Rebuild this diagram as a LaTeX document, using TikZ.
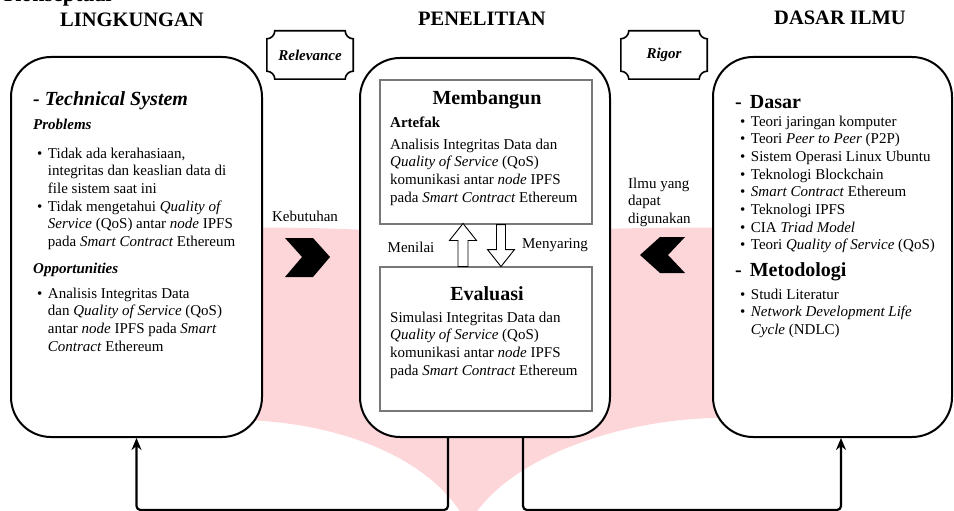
\documentclass[tikz,border=0pt]{standalone}
\usepackage{fontspec}
\setmainfont{Liberation Serif}
\usetikzlibrary{calc,arrows.meta}
\definecolor{wm}{RGB}{253,214,218}
\definecolor{innergray}{RGB}{120,120,120}
\newcommand\plaqueframe[2]{%
  \draw[line width=1.6pt,fill=white]
    ($(#1.north west)+(#2,0)$) -- ($(#1.north east)+(-#2,0)$)
    .. controls ($(#1.north east)+(-#2,0.552*#2)$) and ($(#1.north east)+(-0.552*#2,#2)$) .. ($(#1.north east)+(0,#2)$)
    -- ($(#1.south east)+(0,-#2)$)
    .. controls ($(#1.south east)+(-0.552*#2,-#2)$) and ($(#1.south east)+(-#2,-0.552*#2)$) .. ($(#1.south east)+(-#2,0)$)
    -- ($(#1.south west)+(#2,0)$)
    .. controls ($(#1.south west)+(#2,-0.552*#2)$) and ($(#1.south west)+(0.552*#2,-#2)$) .. ($(#1.south west)+(0,-#2)$)
    -- ($(#1.north west)+(0,#2)$)
    .. controls ($(#1.north west)+(0.552*#2,#2)$) and ($(#1.north west)+(#2,0.552*#2)$) .. cycle;}
\begin{document}
\begin{tikzpicture}[x=1pt,y=-1pt,
  bigbox/.style={draw,line width=2pt,fill=white,rounded corners=40pt,inner sep=0pt},
  innerbox/.style={draw=innergray,line width=1.1pt,fill=white,inner sep=0pt,minimum width=212pt,minimum height=144pt},
  title/.style={font=\fontsize{20.5}{24}\selectfont\bfseries,inner sep=0pt},
  head/.style={font=\fontsize{20}{24}\selectfont\bfseries,inner sep=0pt},
  txt/.style={font=\fontsize{15}{17.7}\selectfont,inner sep=0pt,anchor=base west},
  lbl/.style={font=\fontsize{15}{17.7}\selectfont,inner sep=0pt,anchor=base},
  plaque/.style={inner sep=0pt,font=\fontsize{15}{18}\selectfont\bfseries\itshape},
  blockarrow/.style={draw,line width=0.9pt,fill=white},
  chevron/.style={fill=black},
  conn/.style={line width=2.2pt,rounded corners=4pt,-{Stealth[length=12pt,width=10pt]}}]
\useasboundingbox (0,0) rectangle (954,511);
\clip (0,0) rectangle (954,511);
% watermark
\fill[wm] (225,228) .. controls (330,226) and (430,232) .. (468,240)
  .. controls (506,232) and (620,226) .. (735,228) -- (735,418)
  .. controls (640,415) and (510,450) .. (468,525)
  .. controls (430,450) and (320,418) .. (225,420) -- cycle;
% titles
\node[anchor=base west,font=\fontsize{22}{26}\selectfont\bfseries,inner sep=0pt] (kons) at (4,2) {Konseptual};
\node[title] (tLing) at (132,20) {LINGKUNGAN};
\node[title] (tPen) at (482,19) {PENELITIAN};
\node[title] (tDas) at (840,18) {DASAR ILMU};
% big boxes
\node[bigbox,minimum width=251pt,minimum height=380pt] (env) at (136.5,247) {};
\node[bigbox,minimum width=250pt,minimum height=379pt] (res) at (485,247.5) {};
\node[bigbox,minimum width=239pt,minimum height=380pt] (base) at (832.5,247) {};
% plaques
\node[plaque,minimum width=86pt,minimum height=48pt] (rel) at (310,55) {};
\plaqueframe{rel}{8}
\node[plaque] (relT) at (310,55) {Relevance};
\node[plaque,minimum width=86pt,minimum height=48pt] (rig) at (664,55) {};
\plaqueframe{rig}{8}
\node[plaque] (rigT) at (664,55) {Rigor};
% left box content
\node[anchor=base west,font=\fontsize{20}{24}\selectfont\bfseries\itshape,inner sep=0pt] (tech) at (33,106) {- Technical System};
\node[txt,font=\fontsize{15}{18}\selectfont\bfseries\itshape] (prob) at (33,129) {Problems};
\node[txt] (pl) at (37,158) {\begin{tabular}[t]{@{}l@{\hspace{5.5pt}}l@{}}
\textbullet & Tidak ada kerahasiaan,\\
 & integritas dan keaslian data di\\
 & file sistem saat ini\\
\textbullet & Tidak mengetahui \textit{Quality of}\\
 & \textit{Service} (QoS) antar \textit{node} IPFS\\
 & pada \textit{Smart Contract} Ethereum\end{tabular}};
\node[txt,font=\fontsize{15}{18}\selectfont\bfseries\itshape] (opp) at (33,273) {Opportunities};
\node[txt] (ol) at (37,298) {\begin{tabular}[t]{@{}l@{\hspace{5.5pt}}l@{}}
\textbullet & Analisis Integritas Data\\
 & dan \textit{Quality of Service} (QoS)\\
 & antar \textit{node} IPFS pada \textit{Smart}\\
 & \textit{Contract} Ethereum\end{tabular}};
% center box content
\node[innerbox] (mem) at (486,152) {};
\node[innerbox] (eva) at (486,339) {};
\node[head,anchor=base] (memT) at (487,105) {Membangun};
\node[txt,font=\fontsize{15}{18}\selectfont\bfseries] (art) at (390,128) {Artefak};
\node[txt] (memB) at (390,149) {\begin{tabular}[t]{@{}l@{}}
Analisis Integritas Data dan\\
\textit{Quality of Service} (QoS)\\
komunikasi antar \textit{node} IPFS\\
pada \textit{Smart Contract} Ethereum\end{tabular}};
\node[head,anchor=base] (evaT) at (487,300) {Evaluasi};
\node[txt] (evaB) at (390,322) {\begin{tabular}[t]{@{}l@{}}
Simulasi Integritas Data dan\\
\textit{Quality of Service} (QoS)\\
komunikasi antar \textit{node} IPFS\\
pada \textit{Smart Contract} Ethereum\end{tabular}};
\draw[blockarrow] ($(eva.north)+(-28,0)$) -- ++(0,-26) -- ++(-8.5,0) -- ++(13.5,-17) -- ++(13.5,17) -- ++(-8.5,0) -- ++(0,26) -- cycle;
\draw[blockarrow] ($(mem.south)+(10.5,0)$) -- ++(0,25) -- ++(-9,0) -- ++(13.5,17) -- ++(13.5,-17) -- ++(-9,0) -- ++(0,-25) -- cycle;
\node[lbl] (menilai) at (411,252) {Menilai};
\node[lbl] (menyaring) at (555,248) {Menyaring};
% side labels and chevrons
\node[lbl] (keb) at (305,221) {Kebutuhan};
\fill[chevron] (285,238) -- (313,238) -- (330,257) -- (313,277) -- (285,277) -- (302,257) -- cycle;
\node[txt] (ilmu) at (628,188) {\begin{tabular}[t]{@{}l@{}}Ilmu yang\\ dapat\\ digunakan\end{tabular}};
\fill[chevron] (685,237) -- (660,237) -- (640,255) -- (660,273) -- (685,273) -- (668,255) -- cycle;
% right box content
\node[head,anchor=base west] (dasar) at (735,109) {-\hspace{8pt}Dasar};
\node[txt] (dl) at (740,126) {\begin{tabular}[t]{@{}l@{\hspace{5.5pt}}l@{}}
\textbullet & Teori jaringan komputer\\
\textbullet & Teori \textit{Peer to Peer} (P2P)\\
\textbullet & Sistem Operasi Linux Ubuntu\\
\textbullet & Teknologi Blockchain\\
\textbullet & \textit{Smart Contract} Ethereum\\
\textbullet & Teknologi IPFS\\
\textbullet & CIA \textit{Triad Model}\\
\textbullet & Teori \textit{Quality of Service} (QoS)\end{tabular}};
\node[head,anchor=base west] (metod) at (735,276) {-\hspace{8pt}Metodologi};
\node[txt] (ml) at (740,299) {\begin{tabular}[t]{@{}l@{\hspace{5.5pt}}l@{}}
\textbullet & Studi Literatur\\
\textbullet & \textit{Network Development Life}\\
 & \textit{Cycle} (NDLC)\end{tabular}};
% connectors
\draw[conn] ($(res.south)+(-37,0)$) -- ++(0,72) -| (env.south);
\draw[conn] ($(res.south)+(38,0)$) -- ++(0,72) -| ($(base.south)+(8.5,0)$);
\end{tikzpicture}
\end{document}
